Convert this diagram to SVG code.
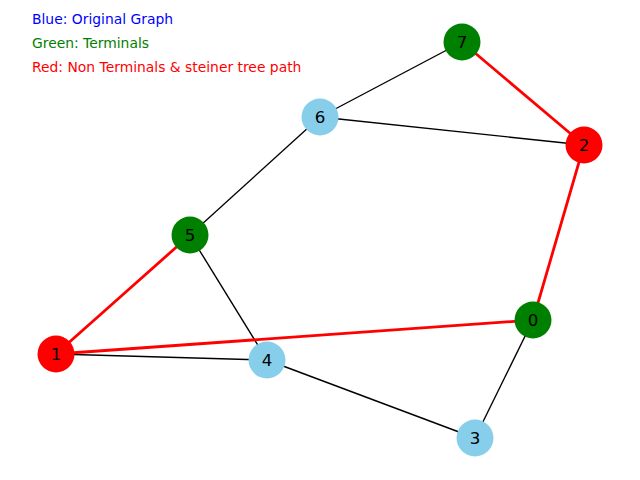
<svg xmlns="http://www.w3.org/2000/svg" width="640" height="480" viewBox="0 0 640 480">
<style>
.e{stroke:#000;stroke-width:1.39;fill:none}
.r{stroke:#ff0000;stroke-width:2.78;fill:none}
.n circle{stroke:none}
.lb{font-family:"DejaVu Sans",sans-serif;font-size:16.67px;fill:#000;text-anchor:middle;dominant-baseline:central}
.lg{font-family:"DejaVu Sans",sans-serif;font-size:13.89px}
</style>
<rect width="640" height="480" fill="#fff"/>
<g id="connectors">
<line class="e" x1="462" y1="42" x2="320" y2="117"/>
<line class="e" x1="320" y1="117" x2="584" y2="145"/>
<line class="e" x1="320" y1="117" x2="190" y2="235"/>
<line class="e" x1="190" y1="235" x2="267" y2="360"/>
<line class="e" x1="56" y1="354" x2="267" y2="360"/>
<line class="e" x1="267" y1="360" x2="475" y2="438"/>
<line class="e" x1="533" y1="320" x2="475" y2="438"/>
<line class="r" x1="462" y1="42" x2="584" y2="145"/>
<line class="r" x1="584" y1="145" x2="533" y2="320"/>
<line class="r" x1="190" y1="235" x2="56" y2="354"/>
<line class="r" x1="56" y1="354" x2="533" y2="320"/>
</g>
<g id="node7" class="n"><circle cx="462" cy="42" r="18.5" fill="#008000"/><text class="lb" x="462" y="42">7</text></g>
<g id="node6" class="n"><circle cx="320" cy="117" r="18.5" fill="#87ceeb"/><text class="lb" x="320" y="117">6</text></g>
<g id="node2" class="n"><circle cx="584" cy="145" r="18.5" fill="#ff0000"/><text class="lb" x="584" y="145">2</text></g>
<g id="node5" class="n"><circle cx="190" cy="235" r="18.5" fill="#008000"/><text class="lb" x="190" y="235">5</text></g>
<g id="node0" class="n"><circle cx="533" cy="320" r="18.5" fill="#008000"/><text class="lb" x="533" y="320">0</text></g>
<g id="node1" class="n"><circle cx="56" cy="354" r="18.5" fill="#ff0000"/><text class="lb" x="56" y="354">1</text></g>
<g id="node4" class="n"><circle cx="267" cy="360" r="18.5" fill="#87ceeb"/><text class="lb" x="267" y="360">4</text></g>
<g id="node3" class="n"><circle cx="475" cy="438" r="18.5" fill="#87ceeb"/><text class="lb" x="475" y="438">3</text></g>
<g id="legend">
<text class="lg" x="32" y="24" fill="#0000ff">Blue: Original Graph</text>
<text class="lg" x="32" y="48" fill="#008000">Green: Terminals</text>
<text class="lg" x="32" y="72" fill="#ff0000">Red: Non Terminals &amp; steiner tree path</text>
</g>
</svg>
